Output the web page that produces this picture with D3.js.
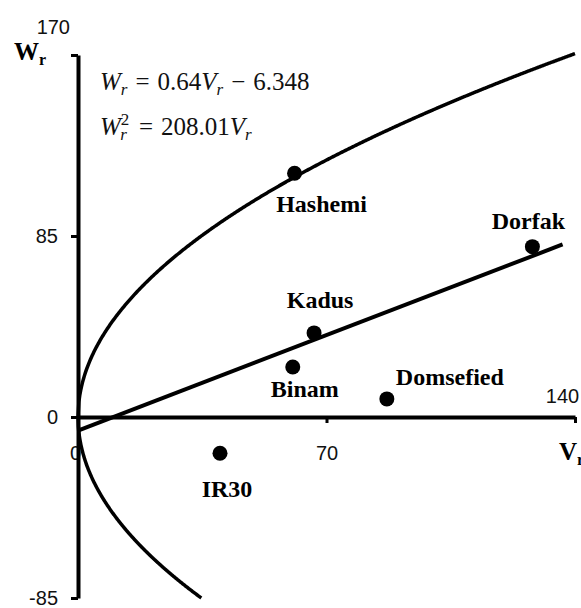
<!DOCTYPE html>
<html>
<head>
<meta charset="utf-8">
<script src="https://cdn.jsdelivr.net/npm/d3@7"></script>
<style>
  html, body { margin: 0; padding: 0; background: #fff; }
  svg { display: block; }
</style>
</head>
<body>
<svg id="chart" width="581" height="608"></svg>
<script>
// ---- data ----
const genotypes = ["Hashemi", "Dorfak", "Kadus", "Binam", "Domsefied", "IR30"];
const vrValues  = [61, 128, 66.5, 60.5, 87, 40];
const wrValues  = [114.5, 80, 39.5, 23.5, 8.5, -17];
const xTicks = [0, 70, 140];
const yTicks = [-85, 0, 85, 170];
// regression line Wr = a*Vr + b, parabola Wr^2 = c*Vr
const lineSlope = 0.64, lineIntercept = -6.348, lineVrMax = 136.5;
const parabolaC = 208.01;

// ---- layout ----
const svg = d3.select("#chart");
const x = d3.scaleLinear().domain([0, 140]).range([78, 575]);
const y = d3.scaleLinear().domain([-85, 170]).range([598, 55]);
// label offsets (dx, dy from dot to label center-baseline), layout only
const labelOffsets = [[27, 39], [-4, -18], [6, -25], [12, 30], [63, -14], [7, 44]];

const tickFont = "'Liberation Sans', Arial, sans-serif";
const serif = "'Liberation Serif', 'Times New Roman', serif";

// ---- curves ----
const lineGen = d3.line().x(d => x(d[0])).y(d => y(d[1]));
const upper = d3.range(0, 140.001, 0.25).map(v => [v, Math.sqrt(parabolaC * v)]);
const lowerMax = (85 * 85) / parabolaC;
const lower = d3.range(0, lowerMax + 0.001, 0.1).map(v => [v, -Math.sqrt(parabolaC * v)]);
lower.push([lowerMax, -85]);

svg.append("path").datum(upper).attr("d", lineGen)
  .attr("fill", "none").attr("stroke", "#000").attr("stroke-width", 3.5);
svg.append("path").datum(lower).attr("d", lineGen)
  .attr("fill", "none").attr("stroke", "#000").attr("stroke-width", 3.5);

const reg = [0, lineVrMax].map(v => [v, lineSlope * v + lineIntercept]);
svg.append("path").datum(reg).attr("d", lineGen)
  .attr("fill", "none").attr("stroke", "#000").attr("stroke-width", 4);

// ---- x axis ----
const xAxis = svg.append("g").attr("transform", `translate(0,${y(0)})`)
  .call(d3.axisBottom(x).tickValues(xTicks).tickSize(6).tickSizeOuter(0).tickFormat(d => String(d)));
xAxis.select(".domain").attr("stroke", "#000").attr("stroke-width", 4);
xAxis.selectAll(".tick line").attr("stroke", "#000").attr("stroke-width", 3);
xAxis.selectAll(".tick text")
  .attr("font-family", tickFont).attr("font-size", 20).attr("fill", "#111")
  .attr("dy", null).attr("y", 43)
  .attr("text-anchor", "middle")
  .attr("transform", d => d === 140 ? "translate(-13,-57)" : d === 0 ? "translate(-3,0)" : null);

// ---- y axis ----
const yAxis = svg.append("g").attr("transform", `translate(${x(0)},0)`)
  .call(d3.axisLeft(y).tickValues(yTicks).tickSize(7).tickSizeOuter(0).tickFormat(d => String(d)));
yAxis.select(".domain").attr("stroke", "#000").attr("stroke-width", 4);
yAxis.selectAll(".tick line").attr("stroke", "#000").attr("stroke-width", 3);
yAxis.selectAll(".tick text")
  .attr("font-family", tickFont).attr("font-size", 20).attr("fill", "#111")
  .attr("x", -20)
  .attr("transform", d => d === 170 ? "translate(12,-28)" : null);

// ---- points ----
const pts = genotypes.map((g, i) => ({ g, v: vrValues[i], w: wrValues[i], off: labelOffsets[i] }));
svg.selectAll("circle.pt").data(pts).join("circle")
  .attr("class", "pt")
  .attr("cx", d => x(d.v)).attr("cy", d => y(d.w)).attr("r", 7.5).attr("fill", "#000");
svg.selectAll("text.lbl").data(pts).join("text")
  .attr("class", "lbl")
  .attr("x", d => x(d.v) + d.off[0]).attr("y", d => y(d.w) + d.off[1])
  .attr("text-anchor", "middle")
  .attr("font-family", serif).attr("font-weight", "bold").attr("font-size", 24)
  .attr("fill", "#000")
  .text(d => d.g);

// ---- axis titles ----
const wt = svg.append("text").attr("x", 14).attr("y", 60)
  .attr("font-family", serif).attr("font-weight", "bold").attr("font-size", 25).attr("fill", "#000");
wt.append("tspan").text("W");
wt.append("tspan").attr("font-size", 16).attr("dy", 5).text("r");

const vt = svg.append("text").attr("x", 559).attr("y", 460)
  .attr("font-family", serif).attr("font-weight", "bold").attr("font-size", 25).attr("fill", "#000");
vt.append("tspan").text("V");
vt.append("tspan").attr("font-size", 16).attr("dy", 5).text("r");

// ---- equations ----
const eqFont = "'Liberation Serif', 'Times New Roman', serif";
const e1 = svg.append("text").attr("x", 100).attr("y", 90)
  .attr("font-family", eqFont).attr("font-size", 25).attr("fill", "#111");
e1.append("tspan").attr("font-style", "italic").text("W");
e1.append("tspan").attr("font-style", "italic").attr("font-size", 17).attr("dy", 5).text("r");
e1.append("tspan").attr("dy", -5).attr("dx", 8).text("=");
e1.append("tspan").attr("dx", 8).text("0.64");
e1.append("tspan").attr("font-style", "italic").text("V");
e1.append("tspan").attr("font-style", "italic").attr("font-size", 17).attr("dy", 5).text("r");
e1.append("tspan").attr("dy", -5).attr("dx", 8).text("−");
e1.append("tspan").attr("dx", 8).text("6.348");

const e2 = svg.append("text").attr("x", 100).attr("y", 135)
  .attr("font-family", eqFont).attr("font-size", 25).attr("fill", "#111");
e2.append("tspan").attr("font-style", "italic").text("W");
e2.append("tspan").attr("font-size", 17).attr("dy", -10).text("2");
e2.append("tspan").attr("font-style", "italic").attr("font-size", 17).attr("dx", -9).attr("dy", 15).text("r");
e2.append("tspan").attr("dy", -5).attr("dx", 12).text("=");
e2.append("tspan").attr("dx", 8).text("208.01");
e2.append("tspan").attr("font-style", "italic").text("V");
e2.append("tspan").attr("font-style", "italic").attr("font-size", 17).attr("dy", 5).text("r");
</script>
</body>
</html>
